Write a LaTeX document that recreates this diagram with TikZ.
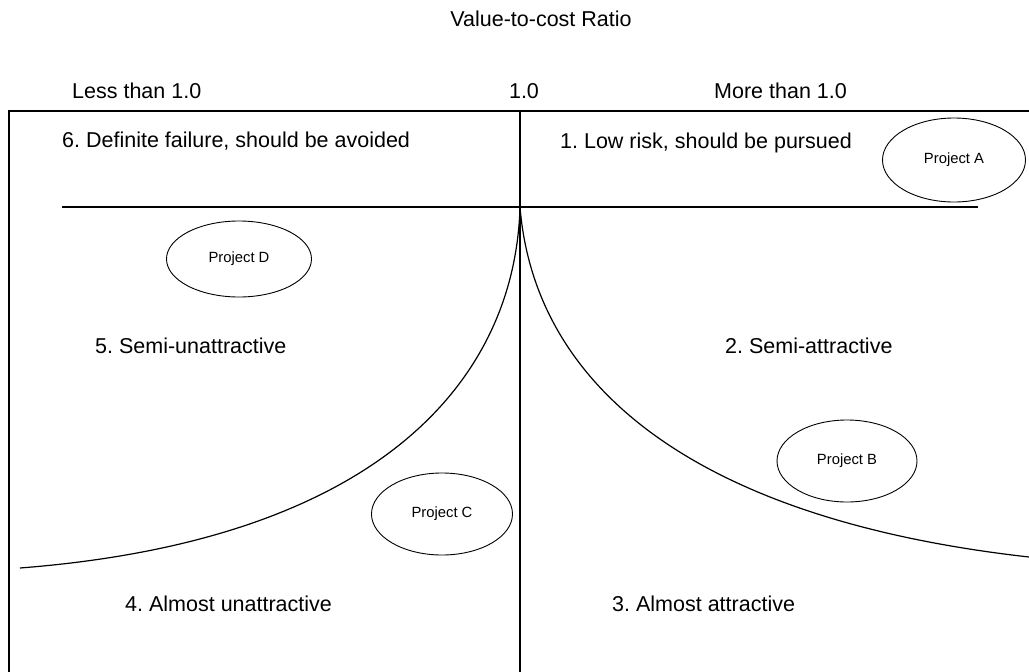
\documentclass[tikz,border=0pt]{standalone}
\usepackage{fontspec}
\setmainfont{Liberation Sans}
\usetikzlibrary{shapes.geometric}
\frenchspacing

\begin{document}
\begin{tikzpicture}[x=1pt,y=-1pt,
    zonelabel/.style={anchor=base west, inner sep=0pt,
      font=\fontsize{21.5}{26}\selectfont},
    projectnode/.style={ellipse, draw, line width=0.9pt, inner sep=0pt,
      minimum width=143pt, minimum height=84pt,
      font=\fontsize{14.8}{18}\selectfont},
    frameline/.style={line width=1.2pt}]
    \path[use as bounding box] (0,0) rectangle (1029,672);

    % Axis titles above the frame.
    \node[zonelabel, anchor=base] (title) at (541,26) {Value-to-cost Ratio};
    \node[zonelabel] (lessone) at (72,98) {Less than 1.0};
    \node[zonelabel, anchor=base] (one) at (524,98) {1.0};
    \node[zonelabel] (moreone) at (714,98) {More than 1.0};

    % Open frame, centre axis and the split line.
    \coordinate (topleft) at (9,111);
    \coordinate (topright) at (1029,111);
    \coordinate (bottomleft) at (9,672);
    \coordinate (axistop) at (520,111);
    \coordinate (axisbottom) at (520,672);
    \coordinate (splitleft) at (62,207);
    \coordinate (splitright) at (978,207);
    \coordinate (apex) at (520,207);
    \coordinate (leftend) at (20,568);
    \coordinate (rightend) at (1029,557);
    \draw[frameline] (bottomleft) -- (topleft) -- (topright);
    \draw[frameline] (axistop) -- (axisbottom);
    \draw[frameline] (splitleft) -- (splitright);

    % Two curves falling away from the apex.
    \draw[frameline] (apex) .. controls (515,380) and (380,540) .. (leftend);
    \draw[frameline] (apex) .. controls (535,390) and (700,520) .. (rightend);

    % Zone names.
    \node[zonelabel] (zone6) at (62,147) {6. Definite failure, should be avoided};
    \node[zonelabel] (zone1) at (560,148) {1. Low risk, should be pursued};
    \node[zonelabel] (zone5) at (95,353) {5. Semi-unattractive};
    \node[zonelabel] (zone2) at (725,353) {2. Semi-attractive};
    \node[zonelabel] (zone4) at (125,611) {4. Almost unattractive};
    \node[zonelabel] (zone3) at (612,611) {3. Almost attractive};

    % Projects placed in their zones.
    \node[projectnode] (projA) at (954,160) {Project A};
    \node[projectnode, minimum width=145pt, minimum height=76pt]
      (projD) at (239,259) {Project D};
    \node[projectnode, minimum width=140pt, minimum height=82pt]
      (projB) at (847,461) {Project B};
    \node[projectnode, minimum width=141pt, minimum height=82pt]
      (projC) at (442,514) {Project C};
  \end{tikzpicture}
\end{document}
